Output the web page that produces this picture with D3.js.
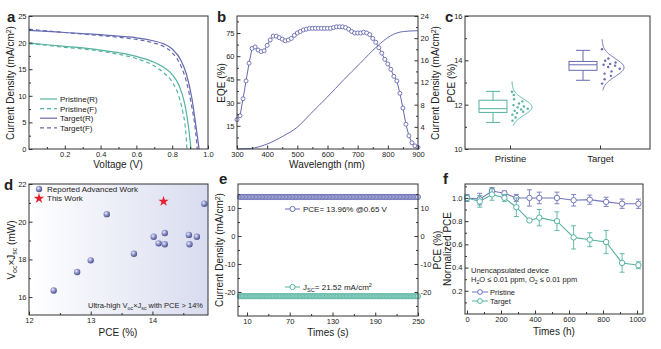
<!DOCTYPE html>
<html>
<head>
<meta charset="utf-8">
<script src="https://cdn.jsdelivr.net/npm/d3@7"></script>
<style>
  body { margin: 0; background: #fff; }
  text { font-family: Arial, "Liberation Sans", sans-serif; fill: #222; }
</style>
</head>
<body>
<script>
// ---- data ----
// a: J-V curves [V, J]
var pristineR = [[0,19.9],[0.1,19.6],[0.2,19.3],[0.3,19.0],[0.4,18.6],[0.5,18.1],[0.6,17.4],[0.7,16.3],[0.75,15.4],[0.8,14.0],[0.84,11.8],[0.87,8.5],[0.89,4.5],[0.905,0]];
var pristineF = [[0,19.8],[0.1,19.5],[0.2,19.1],[0.3,18.8],[0.4,18.4],[0.5,17.8],[0.6,17.0],[0.7,15.6],[0.75,14.4],[0.8,12.6],[0.84,9.6],[0.86,6.8],[0.875,3.5],[0.882,0]];
var targetR = [[0,22.3],[0.1,22.1],[0.2,21.9],[0.3,21.7],[0.4,21.5],[0.5,21.2],[0.6,20.9],[0.7,20.3],[0.75,19.8],[0.8,18.8],[0.85,16.6],[0.88,14.0],[0.91,9.5],[0.93,5.0],[0.95,0]];
var targetF = [[0,22.5],[0.1,22.2],[0.2,21.9],[0.3,21.6],[0.4,21.3],[0.5,21.0],[0.6,20.6],[0.7,19.9],[0.75,19.3],[0.8,18.1],[0.85,15.5],[0.88,12.6],[0.91,7.8],[0.93,3.5],[0.94,0]];

// b: EQE every 10 nm from 300 to 900, integrated current
var eqeWavelength = d3.range(300, 901, 10);
var eqeValues = [19,21.5,32.5,44,55.5,65,66,64,63,63.5,67,70.5,73,73,72,71,70,70.5,71.5,73.5,
  75,76,77,77.5,78,78,78,78,78,78,78,78,78.5,79,79,79,78.5,77.5,76,75,
  75,75,75.5,75,74,71.5,69,65.5,62,58,55,51.5,47,44,36,26.5,16,8.5,4,2,1];
var jscWavelength = [300,344,400,455,499,543,598,654,709,764,808,852,900];
var jscIntegrated = [0,0.1,0.9,2.4,3.9,6.3,9.3,12.5,15.5,18.5,20.4,21.2,21.35];

// c: PCE statistics (min, q1, median, q3, max) and device values
var groups = ["Pristine", "Target"];
var boxStats = [[11.2,11.65,11.82,12.2,12.6],[13.1,13.55,13.8,13.95,14.45]];
var pcePoints = [
  [12.58,12.44,12.25,12.15,12.05,11.98,11.92,11.88,11.82,11.78,11.72,11.68,11.62,11.55,11.42,11.28],
  [14.5,14.08,13.98,13.9,13.84,13.8,13.76,13.7,13.62,13.5,13.4,13.3,13.15,12.95]
];
var curveRange = [[11.05,13.05],[12.65,14.95]];

// d: Voc x Jsc vs PCE
var reportedPCE = [12.4,12.78,13.0,13.26,13.7,14.02,14.1,14.2,14.2,14.59,14.6,14.72,14.84];
var reportedVJ  = [16.35,17.33,17.95,20.4,18.3,19.2,18.85,19.4,18.8,19.3,18.8,19.2,20.95];
var thisWork = [14.18, 21.08];

// e: steady-state output
var stTimes = d3.range(0, 251, 2);
var stPCE = 13.96, stJsc = -21.52;

// f: stability
var stabTime = [0,75,147,220,290,367,425,529,627,722,818,912,1008];
var stabPristine = [1.0,0.99,1.06,1.04,1.0,1.0,1.0,1.0,0.98,0.985,0.966,0.95,0.95];
var stabPristineErr = [0.03,0.05,0.03,0.02,0.03,0.07,0.05,0.05,0.05,0.04,0.04,0.04,0.04];
var stabTarget = [1.0,0.97,1.03,1.0,0.92,0.806,0.83,0.80,0.66,0.64,0.62,0.44,0.42];
var stabTargetErr = [0.02,0.05,0.05,0.03,0.08,0.01,0.07,0.08,0.1,0.06,0.1,0.08,0.03];

var teal = "#55b2a0", purple = "#666bb0", fpurple = "#7377b9";

var svg = d3.select("body").append("svg").attr("width", 661).attr("height", 349);
var defs = svg.append("defs");

function panel(x0, y0) {
  return svg.append("g").attr("transform", "translate(" + x0 + "," + y0 + ")");
}
function frame(g, w, h) {
  g.append("rect").attr("width", w).attr("height", h)
    .attr("fill", "none").attr("stroke", "#333").attr("stroke-width", 1);
}
var plain = function(d) { return String(d); };
function addAxis(g, type, scale, major, minor, pos, fmt) {
  var mk = {bottom: d3.axisBottom, left: d3.axisLeft, right: d3.axisRight}[type];
  if (minor) {
    g.append("g").attr("transform", pos)
      .call(mk(scale).tickValues(minor).tickSize(-2).tickFormat(""))
      .call(function(s) { s.select(".domain").remove(); s.selectAll("text").remove(); s.selectAll("line").attr("stroke", "#333"); });
  }
  var a = g.append("g").attr("transform", pos)
    .call(mk(scale).tickValues(major).tickSize(-3.5).tickPadding(2.5).tickFormat(fmt || plain));
  a.select(".domain").remove();
  a.selectAll("line").attr("stroke", "#333");
  a.selectAll("text").attr("font-size", 7.5).attr("fill", "#222");
  return a;
}
// text runs with sub/superscripts, shifted with dy
function richText(sel, parts) {
  var shift = 0;
  parts.forEach(function(p) {
    var target = p[1] === "sub" ? 2.2 : p[1] === "sup" ? -3.5 : 0;
    var t = sel.append("tspan").text(p[0]).attr("dy", target - shift);
    if (p[1]) t.attr("font-size", "70%");
    shift = target;
  });
  return sel;
}
function yTitle(x, y, parts, size) {
  var t = svg.append("text").attr("transform", "translate(" + x + "," + y + ") rotate(-90)")
    .attr("text-anchor", "middle").attr("font-size", size || 10);
  return richText(t, parts);
}
function xTitle(x, y, txt) {
  svg.append("text").attr("x", x).attr("y", y).attr("text-anchor", "middle")
    .attr("font-size", 10).text(txt);
}
function letter(x, y, s) {
  svg.append("text").attr("x", x).attr("y", y).attr("font-size", 15)
    .attr("font-weight", "bold").text(s);
}
var density = [["Current Density (mA/cm"], ["2", "sup"], [")"]];

// ---- a: J-V ----
(function() {
  var w = 179, h = 133, g = panel(29, 16);
  var x = d3.scaleLinear([0, 1], [0, w]), y = d3.scaleLinear([0, 25], [h, 0]);
  var line = d3.line().x(function(d) { return x(d[0]); }).y(function(d) { return y(d[1]); }).curve(d3.curveMonotoneX);
  var series = [[pristineR, teal, null, "Pristine(R)"], [pristineF, teal, "4,3", "Pristine(F)"],
                [targetR, purple, null, "Target(R)"], [targetF, purple, "4,3", "Target(F)"]];
  series.forEach(function(s) {
    g.append("path").attr("d", line(s[0])).attr("fill", "none").attr("stroke", s[1])
      .attr("stroke-width", 1.2).attr("stroke-dasharray", s[2]);
  });
  series.forEach(function(s, i) {
    var ly = 83 + i * 9.6;
    g.append("line").attr("x1", 11).attr("x2", 28).attr("y1", ly).attr("y2", ly)
      .attr("stroke", s[1]).attr("stroke-width", 1.2).attr("stroke-dasharray", s[2]);
    g.append("text").attr("x", 31).attr("y", ly + 3).attr("font-size", 8).text(s[3]);
  });
  addAxis(g, "bottom", x, [0.2, 0.4, 0.6, 0.8, 1.0], [0.1, 0.3, 0.5, 0.7, 0.9], "translate(0," + h + ")", d3.format(".1f"));
  addAxis(g, "left", y, d3.range(0, 26, 5), d3.range(2.5, 25, 5), null);
  frame(g, w, h);
  xTitle(118, 167.5, "Voltage (V)");
  yTitle(14, 83, density);
  letter(7, 22, "a");
})();

// ---- b: EQE ----
(function() {
  var w = 181, h = 133, g = panel(237, 16);
  var x = d3.scaleLinear([300, 900], [0, w]);
  var yL = d3.scaleLinear([0, 86], [h, 0]), yR = d3.scaleLinear([0, 24], [h, 0]);
  var eqe = eqeWavelength.map(function(d, i) { return [d, eqeValues[i]]; });
  var jsc = jscWavelength.map(function(d, i) { return [d, jscIntegrated[i]]; });
  g.append("path").attr("d", d3.line().x(function(d) { return x(d[0]); }).y(function(d) { return yR(d[1]); }).curve(d3.curveMonotoneX)(jsc))
    .attr("fill", "none").attr("stroke", purple).attr("stroke-width", 1);
  g.append("path").attr("d", d3.line().x(function(d) { return x(d[0]); }).y(function(d) { return yL(d[1]); })(eqe))
    .attr("fill", "none").attr("stroke", purple).attr("stroke-width", 1);
  g.selectAll("circle.eqe").data(eqe).enter().append("circle")
    .attr("cx", function(d) { return x(d[0]); }).attr("cy", function(d) { return yL(d[1]); })
    .attr("r", 2).attr("fill", "#fff").attr("stroke", purple).attr("stroke-width", 0.9);
  addAxis(g, "bottom", x, d3.range(300, 901, 100), d3.range(350, 900, 100), "translate(0," + h + ")");
  addAxis(g, "left", yL, [15, 30, 45, 60, 75], [7.5, 22.5, 37.5, 52.5, 67.5, 82.5], null);
  addAxis(g, "right", yR, [4, 8, 12, 16, 20, 24], [2, 6, 10, 14, 18, 22], "translate(" + w + ",0)");
  frame(g, w, h);
  xTitle(327, 167.5, "Wavelength (nm)");
  yTitle(225, 83, [["EQE (%)"]]);
  yTitle(439, 83, density);
  letter(217, 22, "b");
})();

// ---- c: PCE distribution ----
(function() {
  var w = 185, h = 133, g = panel(465, 16);
  var x = d3.scalePoint(groups, [0, 180]).padding(0.5);
  var y = d3.scaleLinear([10, 16], [h, 0]);
  var cols = [teal, purple], peak = [20, 22];
  groups.forEach(function(name, i) {
    var cx = x(name), bx = cx - 17, bw = 28, st = boxStats[i], c = cols[i];
    var gg = g.append("g").attr("stroke", c).attr("fill", "none").attr("stroke-width", 1);
    gg.append("line").attr("x1", bx).attr("x2", bx).attr("y1", y(st[0])).attr("y2", y(st[1]));
    gg.append("line").attr("x1", bx).attr("x2", bx).attr("y1", y(st[3])).attr("y2", y(st[4]));
    gg.append("line").attr("x1", bx - 7).attr("x2", bx + 7).attr("y1", y(st[0])).attr("y2", y(st[0]));
    gg.append("line").attr("x1", bx - 7).attr("x2", bx + 7).attr("y1", y(st[4])).attr("y2", y(st[4]));
    gg.append("rect").attr("x", bx - bw / 2).attr("y", y(st[3])).attr("width", bw).attr("height", y(st[1]) - y(st[3]));
    gg.append("line").attr("x1", bx - bw / 2).attr("x2", bx + bw / 2).attr("y1", y(st[2])).attr("y2", y(st[2]));
    // fitted normal curve from the device values
    var vals = pcePoints[i], m = d3.mean(vals), s = d3.deviation(vals);
    var pdf = function(v) { return Math.exp(-0.5 * Math.pow((v - m) / s, 2)); };
    var pts = d3.range(curveRange[i][0], curveRange[i][1] + 0.001, 0.02);
    gg.append("path").attr("d", d3.line().x(function(v) { return cx + 2 + peak[i] * pdf(v); }).y(y).curve(d3.curveBasis)(pts));
    g.selectAll(null).data(vals).enter().append("circle")
      .attr("cx", function(v, j) { return cx + 2 + (peak[i] * pdf(v) - 3) * ((j * 0.618) % 1); })
      .attr("cy", y).attr("r", 1.2).attr("fill", c);
  });
  addAxis(g, "left", y, [10, 12, 14, 16], [11, 13, 15], null);
  var xa = g.append("g").attr("transform", "translate(0," + h + ")")
    .call(d3.axisBottom(x).tickSize(-3.5).tickPadding(6));
  xa.select(".domain").remove();
  xa.selectAll("line").attr("stroke", "#333");
  xa.selectAll("text").attr("font-size", 9.5).attr("fill", "#222");
  frame(g, w, h);
  yTitle(455, 83, [["PCE (%)"]]);
  letter(445, 22, "c");
})();

// ---- d: Voc x Jsc comparison ----
(function() {
  var w = 179, h = 131, g = panel(29, 184);
  var x = d3.scaleLinear([12, 14.9], [0, w]), y = d3.scaleLinear([15.05, 22], [h, 0]);
  var bg = defs.append("linearGradient").attr("id", "dbg");
  bg.append("stop").attr("offset", "0%").attr("stop-color", "#ffffff");
  bg.append("stop").attr("offset", "100%").attr("stop-color", "#d9dcef");
  var sph = defs.append("radialGradient").attr("id", "sph").attr("cx", "38%").attr("cy", "35%").attr("r", "65%");
  sph.append("stop").attr("offset", "0%").attr("stop-color", "#eef0fa");
  sph.append("stop").attr("offset", "45%").attr("stop-color", "#959acc");
  sph.append("stop").attr("offset", "100%").attr("stop-color", "#4c5190");
  g.append("rect").attr("width", w).attr("height", h).attr("fill", "url(#dbg)");
  g.selectAll("circle.rep").data(reportedPCE).enter().append("circle")
    .attr("cx", function(d) { return x(d); }).attr("cy", function(d, i) { return y(reportedVJ[i]); })
    .attr("r", 3.2).attr("fill", "url(#sph)");
  var star = d3.symbol(d3.symbolStar).size(34);
  g.append("path").attr("d", star()).attr("fill", "#e3202b")
    .attr("transform", "translate(" + x(thisWork[0]) + "," + y(thisWork[1]) + ")");
  g.append("circle").attr("cx", 10).attr("cy", 5).attr("r", 3.2).attr("fill", "url(#sph)");
  g.append("text").attr("x", 18).attr("y", 8).attr("font-size", 8).text("Reported Advanced Work");
  g.append("path").attr("d", star()).attr("fill", "#e3202b").attr("transform", "translate(10,14.5)");
  g.append("text").attr("x", 18).attr("y", 17).attr("font-size", 8).text("This Work");
  richText(g.append("text").attr("x", 174).attr("y", 124).attr("text-anchor", "end").attr("font-size", 7.5),
    [["Ultra-high V"], ["oc", "sub"], ["\u00d7J"], ["sc", "sub"], [" with PCE > 14%"]]);
  addAxis(g, "bottom", x, [12, 13, 14], [12.5, 13.5, 14.5], "translate(0," + h + ")");
  addAxis(g, "left", y, [16, 18, 20, 22], [17, 19, 21], null);
  frame(g, w, h);
  xTitle(118, 336, "PCE (%)");
  yTitle(15, 250, [["V"], ["oc", "sub"], ["\u00d7J"], ["sc", "sub"], [" (mW)"]]);
  letter(4, 190, "d");
})();

// ---- e: steady-state output ----
(function() {
  var w = 180, h = 132, g = panel(238, 184);
  var x = d3.scaleLinear([-2.6, 250], [0, w]), y = d3.scaleLinear([-28.6, 18.6], [h, 0]);
  [[stPCE, purple, "#c3c6e8"], [stJsc, teal, "#a9dcd2"]].forEach(function(s) {
    g.append("line").attr("x1", x(stTimes[0])).attr("x2", x(stTimes[stTimes.length - 1]))
      .attr("y1", y(s[0])).attr("y2", y(s[0])).attr("stroke", s[1]);
    g.selectAll(null).data(stTimes).enter().append("circle")
      .attr("cx", function(t) { return x(t); }).attr("cy", y(s[0])).attr("r", 2.6)
      .attr("fill", s[2]).attr("stroke", s[1]).attr("stroke-width", 0.8);
  });
  function key(ly, c, parts) {
    g.append("line").attr("x1", 47).attr("x2", 62).attr("y1", ly).attr("y2", ly).attr("stroke", c);
    g.append("circle").attr("cx", 54.5).attr("cy", ly).attr("r", 2.6).attr("fill", "#fff").attr("stroke", c);
    richText(g.append("text").attr("x", 65).attr("y", ly + 3).attr("font-size", 8), parts);
  }
  key(25, purple, [["PCE= 13.96% @0.65 V"]]);
  key(103, teal, [["J"], ["SC", "sub"], ["= 21.52 mA/cm"], ["2", "sup"]]);
  addAxis(g, "bottom", x, [10, 70, 130, 190, 250], [40, 100, 160, 220], "translate(0," + h + ")");
  addAxis(g, "left", y, [-20, -10, 0, 10], [-25, -15, -5, 5, 15], null);
  addAxis(g, "right", y, [-20, -10, 0, 10], [-25, -15, -5, 5, 15], "translate(" + w + ",0)");
  frame(g, w, h);
  xTitle(328, 336, "Times (s)");
  yTitle(223, 250, density);
  yTitle(441, 250, [["PCE (%)"]]);
  letter(219, 184, "e");
})();

// ---- f: stability ----
(function() {
  var w = 178, h = 130, g = panel(465, 184);
  var x = d3.scaleLinear([-11.8, 1035], [0, w]), y = d3.scaleLinear([0, 1.12], [h, 0]);
  [[stabPristine, stabPristineErr, fpurple], [stabTarget, stabTargetErr, teal]].forEach(function(s) {
    var pts = stabTime.map(function(t, i) { return [t, s[0][i], s[1][i]]; });
    var eg = g.append("g").attr("stroke", s[2]).attr("stroke-width", 0.9);
    pts.forEach(function(p) {
      eg.append("line").attr("x1", x(p[0])).attr("x2", x(p[0])).attr("y1", y(p[1] - p[2])).attr("y2", y(p[1] + p[2]));
      [p[1] - p[2], p[1] + p[2]].forEach(function(v) {
        eg.append("line").attr("x1", x(p[0]) - 2.5).attr("x2", x(p[0]) + 2.5).attr("y1", y(v)).attr("y2", y(v));
      });
    });
    g.append("path").attr("d", d3.line().x(function(p) { return x(p[0]); }).y(function(p) { return y(p[1]); })(pts))
      .attr("fill", "none").attr("stroke", s[2]).attr("stroke-width", 1.1);
    g.selectAll(null).data(pts).enter().append("circle")
      .attr("cx", function(p) { return x(p[0]); }).attr("cy", function(p) { return y(p[1]); })
      .attr("r", 2.7).attr("fill", "#fff").attr("stroke", s[2]).attr("stroke-width", 1);
  });
  g.append("text").attr("x", 6).attr("y", 89).attr("font-size", 7.5).text("Unencapsulated device");
  richText(g.append("text").attr("x", 6).attr("y", 98).attr("font-size", 7.5),
    [["H"], ["2", "sub"], ["O \u2264 0.01 ppm,  O"], ["2", "sub"], [" \u2264 0.01 ppm"]]);
  [["Pristine", fpurple, 108], ["Target", teal, 117]].forEach(function(k) {
    g.append("line").attr("x1", 7).attr("x2", 23).attr("y1", k[2]).attr("y2", k[2]).attr("stroke", k[1]);
    g.append("circle").attr("cx", 15).attr("cy", k[2]).attr("r", 2.4).attr("fill", "#fff").attr("stroke", k[1]);
    g.append("text").attr("x", 25).attr("y", k[2] + 3).attr("font-size", 7.5).text(k[0]);
  });
  addAxis(g, "bottom", x, d3.range(0, 1001, 200), d3.range(100, 1000, 200), "translate(0," + h + ")");
  addAxis(g, "left", y, [0.2, 0.4, 0.6, 0.8, 1.0], [0.1, 0.3, 0.5, 0.7, 0.9, 1.1], null, d3.format(".1f"));
  frame(g, w, h);
  xTitle(554, 335, "Times (h)");
  yTitle(451, 249, [["Normalized PCE"]]);
  letter(443, 184, "f");
})();
</script>
</body>
</html>
